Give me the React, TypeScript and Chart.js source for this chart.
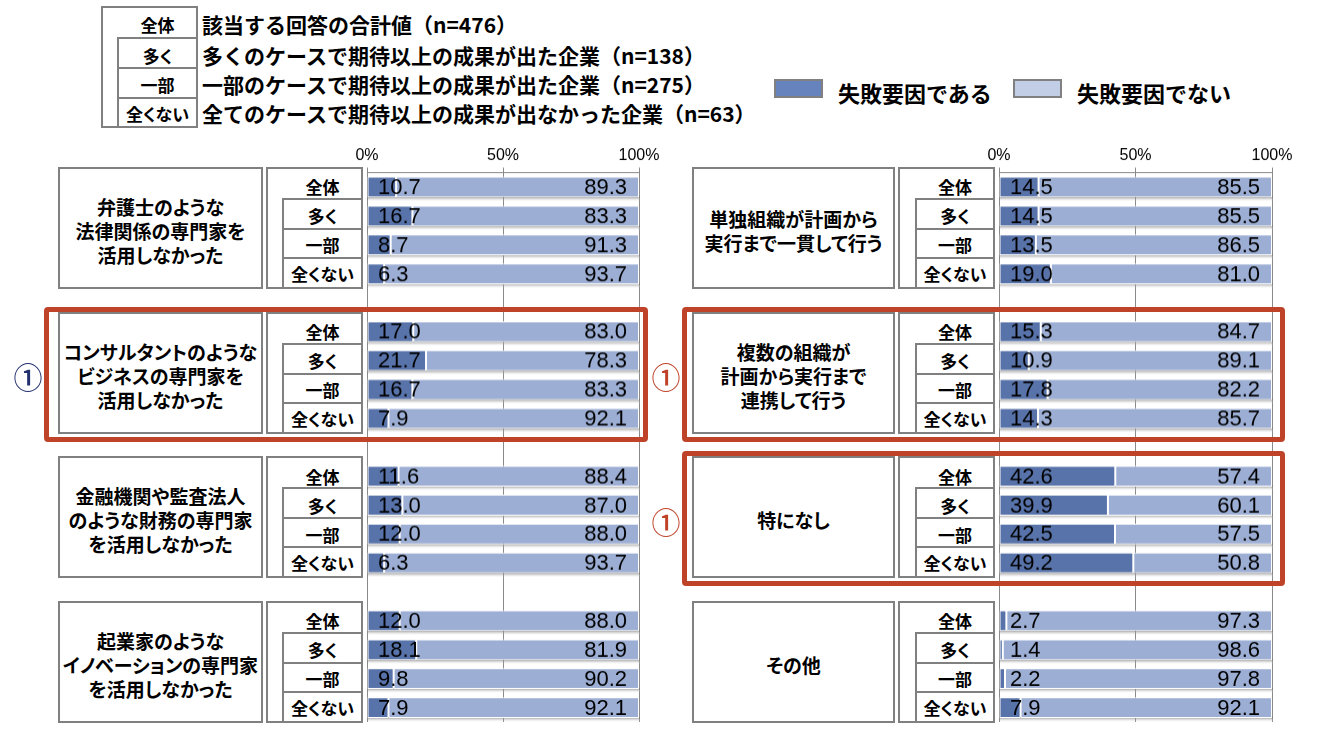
import React, { useEffect, useRef } from 'react';
import { Chart, registerables } from 'chart.js';
Chart.register(...registerables);

// ---------- data ----------
const rowLabels = ['全体', '多く', '一部', '全くない'];
const xTickLabels = ['0%', '50%', '100%'];
const seriesNames = ['失敗要因である', '失敗要因でない'];

const keyLabels = ['全体', '多く', '一部', '全くない'];
const keyTexts = [
  '該当する回答の合計値（n=476）',
  '多くのケースで期待以上の成果が出た企業（n=138）',
  '一部のケースで期待以上の成果が出た企業（n=275）',
  '全てのケースで期待以上の成果が出なかった企業（n=63）',
];

const leftGroupLabels = [
  ['弁護士のような', '法律関係の専門家を', '活用しなかった'],
  ['コンサルタントのような', 'ビジネスの専門家を', '活用しなかった'],
  ['金融機関や監査法人', 'のような財務の専門家', 'を活用しなかった'],
  ['起業家のような', 'イノベーションの専門家', 'を活用しなかった'],
];
const rightGroupLabels = [
  ['単独組織が計画から', '実行まで一貫して行う'],
  ['複数の組織が', '計画から実行まで', '連携して行う'],
  ['特になし'],
  ['その他'],
];

const lawyerYes = [10.7, 16.7, 8.7, 6.3];
const lawyerNo = [89.3, 83.3, 91.3, 93.7];
const consultYes = [17.0, 21.7, 16.7, 7.9];
const consultNo = [83.0, 78.3, 83.3, 92.1];
const financeYes = [11.6, 13.0, 12.0, 6.3];
const financeNo = [88.4, 87.0, 88.0, 93.7];
const founderYes = [12.0, 18.1, 9.8, 7.9];
const founderNo = [88.0, 81.9, 90.2, 92.1];

const singleOrgYes = [14.5, 14.5, 13.5, 19.0];
const singleOrgNo = [85.5, 85.5, 86.5, 81.0];
const multiOrgYes = [15.3, 10.9, 17.8, 14.3];
const multiOrgNo = [84.7, 89.1, 82.2, 85.7];
const noneYes = [42.6, 39.9, 42.5, 49.2];
const noneNo = [57.4, 60.1, 57.5, 50.8];
const otherYes = [2.7, 1.4, 2.2, 7.9];
const otherNo = [97.3, 98.6, 97.8, 92.1];

// highlighted groups (① marks)
const leftHighlights = [1];
const rightHighlights = [1, 2];

// ---------- style ----------
const DARK = '#5873AA';
const LIGHT = '#9CAED4';
const LEG_DARK = '#6683BE';
const LEG_LIGHT = '#C2CEE6';
const GRID = '#8a8a8a';
const BOXC = '#808080';
const RED = '#BF4329';
const NAVY = '#23306E';
const JP = '"Noto Sans CJK JP", "Noto Sans", sans-serif';
const NUMF = '"Liberation Sans", Arial, sans-serif';

const CHART_TOP = 172.5;
const PITCH = 28.92;
const N_CATS = 19;
const PAD = 30;
const AXIS_H = 42.5;
const CANVAS_TOP = CHART_TOP - AXIS_H;
const BOTTOM_PAD = 10;

function buildSeries(groups: number[][]): (number | null)[] {
  const out: (number | null)[] = [];
  groups.forEach((g, i) => {
    out.push(...g);
    if (i < groups.length - 1) out.push(null);
  });
  return out;
}
function buildCats(n: number): string[] {
  const out: string[] = [];
  for (let i = 0; i < n; i++) {
    out.push(...rowLabels);
    if (i < n - 1) out.push('');
  }
  return out;
}

const shadowPlugin = {
  id: 'barShadow',
  beforeDatasetsDraw(chart: any) {
    const ctx = chart.ctx;
    const xs = chart.scales.x;
    const ys = chart.scales.y;
    const x0 = xs.getPixelForValue(0);
    const x1 = xs.getPixelForValue(100);
    const data = chart.data.datasets[0].data;
    const thick = PITCH * 0.72;
    data.forEach((v: any, i: number) => {
      if (v == null) return;
      const yb = ys.getPixelForValue(i) + thick / 2;
      const g = ctx.createLinearGradient(0, yb - 1, 0, yb + 4);
      g.addColorStop(0, 'rgba(100,100,100,0.75)');
      g.addColorStop(1, 'rgba(230,230,230,0)');
      ctx.save();
      ctx.fillStyle = g;
      ctx.fillRect(x0 + 1, yb - 1, x1 - x0, 5);
      ctx.restore();
    });
  },
};

const labelPlugin = {
  id: 'valueLabels',
  afterDatasetsDraw(chart: any) {
    const ctx = chart.ctx;
    const xs = chart.scales.x;
    const ys = chart.scales.y;
    const x0 = xs.getPixelForValue(0);
    const x1 = xs.getPixelForValue(100);
    const a = chart.data.datasets[0].data;
    const b = chart.data.datasets[1].data;
    ctx.save();
    ctx.font = `22px ${NUMF}`;
    ctx.fillStyle = '#000';
    ctx.textBaseline = 'middle';
    a.forEach((v: any, i: number) => {
      if (v == null) return;
      const y = ys.getPixelForValue(i) + 1;
      ctx.textAlign = 'left';
      ctx.fillText(Number(v).toFixed(1), x0 + 11, y);
      ctx.textAlign = 'right';
      ctx.fillText(Number(b[i]).toFixed(1), x1 - 12, y);
    });
    ctx.restore();
  },
};

function BarColumn({ left, width, yes, no }: { left: number; width: number; yes: number[][]; no: number[][] }) {
  const ref = useRef<HTMLCanvasElement>(null);
  const W = width + PAD * 2;
  const H = AXIS_H + PITCH * N_CATS + BOTTOM_PAD;
  useEffect(() => {
    if (!ref.current) return;
    const chart = new Chart(ref.current, {
      type: 'bar',
      data: {
        labels: buildCats(yes.length),
        datasets: [
          {
            label: seriesNames[0],
            data: buildSeries(yes),
            backgroundColor: DARK,
            borderColor: '#ffffff',
            borderWidth: 1,
            borderSkipped: false,
            barPercentage: 0.72,
            categoryPercentage: 1,
          },
          {
            label: seriesNames[1],
            data: buildSeries(no),
            backgroundColor: LIGHT,
            borderColor: '#ffffff',
            borderWidth: 1,
            borderSkipped: false,
            barPercentage: 0.72,
            categoryPercentage: 1,
          },
        ],
      },
      options: {
        indexAxis: 'y',
        responsive: false,
        maintainAspectRatio: false,
        animation: false,
        layout: { padding: { left: PAD, right: PAD, top: 0, bottom: BOTTOM_PAD } },
        plugins: { legend: { display: false }, tooltip: { enabled: false } },
        scales: {
          x: {
            position: 'top',
            stacked: true,
            min: 0,
            max: 100,
            ticks: {
              stepSize: 50,
              maxRotation: 0,
              padding: 2,
              color: '#000',
              font: { family: NUMF, size: 16 },
              callback: (_v: any, i: number) => xTickLabels[i],
            },
            grid: { color: GRID, lineWidth: 1, tickLength: 5, drawTicks: true },
            border: { color: GRID, width: 1 },
            afterFit: (s: any) => {
              s.height = AXIS_H;
            },
          },
          y: { stacked: true, display: false, grid: { display: false } },
        },
      } as any,
      plugins: [shadowPlugin, labelPlugin],
    });
    return () => chart.destroy();
  }, []);
  return (
    <canvas
      ref={ref}
      width={W}
      height={H}
      style={{ position: 'absolute', left: left - PAD, top: CANVAS_TOP, width: W, height: H }}
    />
  );
}

function Box({ x1, y1, x2, y2, bw = 2, color = BOXC, radius = 0, children, style }: any) {
  return (
    <div
      style={{
        position: 'absolute',
        left: x1 - bw / 2,
        top: y1 - bw / 2,
        width: x2 - x1 + bw,
        height: y2 - y1 + bw,
        border: `${bw}px solid ${color}`,
        borderRadius: radius,
        boxSizing: 'border-box',
        ...style,
      }}
    >
      {children}
    </div>
  );
}

function Txt({ x, y, w, h, children, size = 17, align = 'center', palt = true, color = '#000', weight = 700, lh }: any) {
  return (
    <div
      style={{
        position: 'absolute',
        left: x,
        top: y,
        width: w,
        height: h,
        display: 'flex',
        flexDirection: 'column',
        alignItems: align === 'center' ? 'center' : 'flex-start',
        justifyContent: 'center',
        textAlign: align,
        fontFamily: JP,
        fontSize: size,
        fontWeight: weight,
        lineHeight: lh ? `${lh}px` : 1,
        color,
        whiteSpace: 'nowrap',
        fontFeatureSettings: palt ? '"palt"' : 'normal',
      }}
    >
      {children}
    </div>
  );
}

function Group({ g, side, lines }: { g: number; side: 'L' | 'R'; lines: string[] }) {
  const top = CHART_TOP - 4.5 + PITCH * 5 * g;
  const bx = side === 'L' ? { l: 59, r: 262, rl: 267, rr: 362, ri: 283 } : { l: 693, r: 894, rl: 899, rr: 994, ri: 916 };
  const divs = [0, 31, 61, 90, 120];
  const rowCenter = (r: number) => CHART_TOP + PITCH * (5 * g + r + 0.5);
  return (
    <>
      <Box x1={bx.l} y1={top} x2={bx.r} y2={top + 120} />
      <Txt x={bx.l} y={top + 3} w={bx.r - bx.l} h={120} size={19} lh={24}>
        {lines.map((s, i) => (
          <div key={i}>{s}</div>
        ))}
      </Txt>
      <Box x1={bx.rl} y1={top} x2={bx.rr} y2={top + 120} />
      {[1, 2, 3].map((r) => (
        <Box key={r} x1={bx.ri} y1={top + divs[r]} x2={bx.rr} y2={top + divs[r + 1]} />
      ))}
      {rowLabels.map((s, r) => (
        <Txt key={s} x={bx.ri} y={rowCenter(r) - 12} w={bx.rr - bx.ri} h={24} size={17}>
          {s}
        </Txt>
      ))}
    </>
  );
}

function Highlight({ g, side }: { g: number; side: 'L' | 'R' }) {
  const top = CHART_TOP - 4.5 + PITCH * 5 * g;
  const x1 = side === 'L' ? 46.5 : 684.5;
  const x2 = side === 'L' ? 645.5 : 1282.5;
  const cx = side === 'L' ? 28 : 666;
  const color = side === 'L' ? NAVY : RED;
  return (
    <>
      <Box x1={x1} y1={top - 3.5} x2={x2} y2={top + 126.5} bw={5} color={RED} radius={4} />
      <Txt x={cx - 22} y={top + 42} w={44} h={44} size={29} weight={500} color={color} palt={false}>
        ①
      </Txt>
    </>
  );
}

export default function App() {
  return (
    <div
      style={{
        position: 'absolute',
        left: 0,
        top: 0,
        width: 1319,
        height: 744,
        background: '#fff',
        overflow: 'hidden',
      }}
    >
      {/* key box */}
      <Box x1={102} y1={7} x2={197} y2={127} />
      {[0, 1, 2].map((i) => (
        <Box key={i} x1={118} y1={[38, 68, 98][i]} x2={197} y2={[68, 98, 127][i]} />
      ))}
      {keyLabels.map((s, i) => {
        const cy = [24, 55, 84, 113][i];
        return (
          <React.Fragment key={s}>
            <Txt x={118} y={cy - 12} w={79} h={24} size={17}>
              {s}
            </Txt>
            <Txt x={202} y={cy - 13} w={600} h={26} size={21} align="left" palt={false}>
              {keyTexts[i]}
            </Txt>
          </React.Fragment>
        );
      })}

      {/* legend */}
      <Box x1={775} y1={80} x2={822} y2={97} color={BOXC} style={{ background: LEG_DARK }} />
      <Txt x={838} y={78} w={170} h={28} size={22} align="left" palt={false}>
        {seriesNames[0]}
      </Txt>
      <Box x1={1014} y1={80} x2={1061} y2={97} color={BOXC} style={{ background: LEG_LIGHT }} />
      <Txt x={1077} y={78} w={170} h={28} size={22} align="left" palt={false}>
        {seriesNames[1]}
      </Txt>

      {leftGroupLabels.map((lines, g) => (
        <Group key={'L' + g} g={g} side="L" lines={lines} />
      ))}
      {rightGroupLabels.map((lines, g) => (
        <Group key={'R' + g} g={g} side="R" lines={lines} />
      ))}

      <BarColumn
        left={367}
        width={272}
        yes={[lawyerYes, consultYes, financeYes, founderYes]}
        no={[lawyerNo, consultNo, financeNo, founderNo]}
      />
      <BarColumn
        left={999}
        width={273}
        yes={[singleOrgYes, multiOrgYes, noneYes, otherYes]}
        no={[singleOrgNo, multiOrgNo, noneNo, otherNo]}
      />

      {leftHighlights.map((g) => (
        <Highlight key={'hl' + g} g={g} side="L" />
      ))}
      {rightHighlights.map((g) => (
        <Highlight key={'hr' + g} g={g} side="R" />
      ))}
    </div>
  );
}
